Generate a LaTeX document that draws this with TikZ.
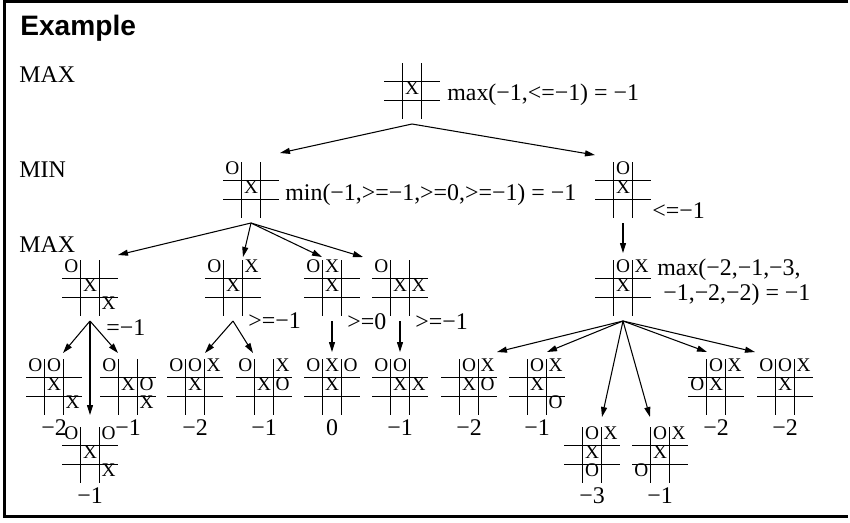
\documentclass[tikz,border=0pt]{standalone}
\usepackage{fontspec}
\setmainfont{Liberation Serif}
\setsansfont{Liberation Sans}
\usetikzlibrary{arrows.meta,calc}

\begin{document}
\begin{tikzpicture}[x=0.02cm,y=-0.02cm,>={Triangle[length=0.2cm,width=0.12cm]},font=\fontsize{13.6}{15}\selectfont]
\tikzstyle{bd}=[minimum size=1.12cm,inner sep=0pt,outer sep=0pt]
\tikzstyle{gl}=[line width=0.8pt]
\tikzstyle{pc}=[inner sep=0pt,anchor=base,font=\fontsize{11}{11}\selectfont]
\tikzstyle{lab}=[inner sep=0pt,anchor=base west]
\useasboundingbox (0,0) rectangle (850,522);
\draw[line width=1.7pt] (848,1.5) -- (4.5,1.5) -- (4.5,516.5) -- (848,516.5);
\node[lab,font=\fontsize{16}{18}\sffamily\bfseries\selectfont] (title) at (20,35) {Example};
\node[lab] (lvl1) at (19,82) {MAX};
\node[lab] (lvl2) at (19,177) {MIN};
\node[lab] (lvl3) at (19,252) {MAX};
% boards: name/left/top/{row/col/mark}
\foreach \n/\x/\y/\c in {root/384/63/{1/1/X},
  n1/223/162/{0/0/O,1/1/X}, n2/595/162/{0/1/O,1/1/X},
  m1/62/260/{0/0/O,1/1/X,2/2/X}, m2/205/260/{0/0/O,0/2/X,1/1/X}, m3/304/260/{0/0/O,0/1/X,1/1/X},
  m4/372/260/{0/0/O,1/1/X,1/2/X}, m5/595/260/{0/1/O,0/2/X,1/1/X},
  l1/26/359/{0/0/O,0/1/O,1/1/X,2/2/X}, l2/100/359/{0/0/O,1/1/X,1/2/O,2/2/X}, l3/62/427/{0/0/O,0/2/O,1/1/X,2/2/X},
  l4/167/359/{0/0/O,0/1/O,0/2/X,1/1/X}, l5/236/359/{0/0/O,0/2/X,1/1/X,1/2/O},
  l6/304/359/{0/0/O,0/1/X,0/2/O,1/1/X}, l7/372/359/{0/0/O,0/1/O,1/1/X,1/2/X},
  l8/441/359/{0/1/O,0/2/X,1/1/X,1/2/O}, l9/509/359/{0/1/O,0/2/X,1/1/X,2/2/O},
  l10/564/427/{0/1/O,0/2/X,1/1/X,2/1/O}, l11/632/427/{0/1/O,0/2/X,1/1/X,2/0/O},
  l12/688/359/{0/1/O,0/2/X,1/0/O,1/1/X}, l13/757/359/{0/0/O,0/1/O,0/2/X,1/1/X}}{
  \node[bd] (\n) at (\x+28,\y+28) {};
  \draw[gl] (\x,\y+18.67) -- ++(56,0) (\x,\y+37.33) -- ++(56,0) (\x+18.67,\y) -- ++(0,56) (\x+37.33,\y) -- ++(0,56);
  \foreach \r/\k/\s in \c \node[pc] (\n-\r\k) at (\x+\k*18.67+9.33,\y+\r*18.67+12.5) {\s};
}
% moves: parent/child/shift of the tip
\foreach \p/\c/\d/\h in {root/n1/29/9,root/n2/-28/7,n1/m1/28/5,n1/m2/10/3,n1/m3/-10/3,n1/m4/-37/3,n2/m5/0/7,
  m1/l1/9/6,m1/l3/0/12,m1/l2/-10/6,m2/l4/10/6,m2/l5/-11/6,m3/l6/0/7,m4/l7/0/7,
  m5/l8/28/7,m5/l9/10/7,m5/l10/10/10,m5/l11/-10/10,m5/l12/-9/7,m5/l13/-30/7}
  \draw[->,line width=0.6pt] ($(\p.south)+(0,5)$) -- ($(\c.north)+(\d,-\h)$);
% backed-up values
\foreach \n/\x/\y/\t in {root/447/100/{max(−1,<=−1) = −1},n1/285/200/{min(−1,>=−1,>=0,>=−1) = −1},n2/652/218/{<=−1},
  m1/106/335/{=−1},m2/248/328/{>=−1},m3/347/329/{>=0},m4/415/329/{>=−1}}
  \node[lab] (\n-v) at (\x,\y) {\t};
\node[lab] (m5-v) at (657,275) {max(−2,−1,−3,};
\node[lab] (m5-w) at (663,300) {−1,−2,−2) = −1};
\foreach \n/\v in {l1/−2,l2/−1,l3/−1,l4/−2,l5/−1,l6/0,l7/−1,l8/−2,l9/−1,l10/−3,l11/−1,l12/−2,l13/−2}
  \node[lab,anchor=base] (\n-v) at ($(\n.south)+(0,20)$) {\v};
\end{tikzpicture}
\end{document}
